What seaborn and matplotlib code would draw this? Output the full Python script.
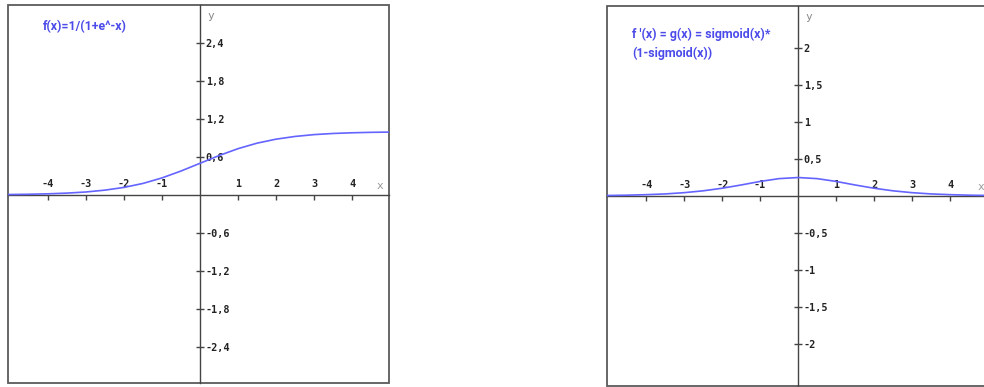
import numpy as np
import pandas as pd
import seaborn as sns
import matplotlib.pyplot as plt

# values, x step 0.5
x_vals = [-5.5, -5.0, -4.5, -4.0, -3.5, -3.0, -2.5, -2.0, -1.5, -1.0, -0.5, 0.0,
          0.5, 1.0, 1.5, 2.0, 2.5, 3.0, 3.5, 4.0, 4.5, 5.0, 5.5]
sigmoid_vals = [0.004, 0.007, 0.011, 0.018, 0.029, 0.047, 0.076, 0.119, 0.182, 0.269, 0.378, 0.5,
                0.622, 0.731, 0.818, 0.881, 0.924, 0.953, 0.971, 0.982, 0.989, 0.993, 0.996]
deriv_vals = [0.004, 0.007, 0.011, 0.018, 0.028, 0.045, 0.070, 0.105, 0.149, 0.197, 0.235, 0.25,
              0.235, 0.197, 0.149, 0.105, 0.070, 0.045, 0.028, 0.018, 0.011, 0.007, 0.004]

x_ticks = [-4, -3, -2, -1, 1, 2, 3, 4]
x_ticklabels = ["-4", "-3", "-2", "-1", "1", "2", "3", "4"]
left_yticks = [-2.4, -1.8, -1.2, -0.6, 0.6, 1.2, 1.8, 2.4]
left_ylabels = ["-2,4", "-1,8", "-1,2", "-0,6", "0,6", "1,2", "1,8", "2,4"]
right_yticks = [-2, -1.5, -1, -0.5, 0.5, 1, 1.5, 2]
right_ylabels = ["-2", "-1,5", "-1", "-0,5", "0,5", "1", "1,5", "2"]

titles = ["f(x)=1/(1+e^-x)", "f '(x) = g(x) = sigmoid(x)*\n(1-sigmoid(x))"]

df = pd.DataFrame({"x": x_vals, "sigmoid": sigmoid_vals, "deriv": deriv_vals})

sns.set_style("white")
line_col = "#6464ff"
axis_col = "#444444"
box_col = "#5a5a5a"
title_col = "#4b4bea"

fig = plt.figure(figsize=(9.84, 3.87), dpi=100)
ax1 = fig.add_axes([8 / 984, 4 / 387, 381 / 984, 378 / 387])
ax2 = fig.add_axes([607 / 984, 1 / 387, 383 / 984, 380 / 387])

panels = [
    (ax1, "sigmoid", (-5.05, 4.97), (-2.97, 3.0), left_yticks, left_ylabels, titles[0], (0.092, 0.96)),
    (ax2, "deriv", (-5.03, 5.05), (-2.57, 2.57), right_yticks, right_ylabels, titles[1], (0.065, 0.943)),
]

for ax, col, xl, yl, yt, ylab, title, tpos in panels:
    sns.lineplot(data=df, x="x", y=col, ax=ax, color=line_col, lw=1.2, zorder=3)
    ax.set_xlim(*xl)
    ax.set_ylim(*yl)
    ax.set_xlabel("")
    ax.set_ylabel("")

    # frame drawn by the axes patch, spines moved to the origin
    ax.patch.set_edgecolor(box_col)
    ax.patch.set_linewidth(1.3)
    for side in ["left", "right", "bottom", "top"]:
        ax.spines[side].set_position(("data", 0))
    for side in ["left", "bottom"]:
        ax.spines[side].set_color(axis_col)
        ax.spines[side].set_linewidth(1.0)
    ax.spines["right"].set_color("none")
    ax.spines["top"].set_color("none")

    ax.set_xticks(x_ticks)
    ax.set_xticklabels(x_ticklabels)
    ax.set_yticks(yt)
    ax.set_yticklabels(ylab)
    ax.tick_params(axis="x", bottom=True, top=False, labelbottom=False, labeltop=True,
                   direction="out", length=3.6, width=1, color=axis_col, pad=0.5)
    ax.tick_params(axis="y", left=True, right=False, labelleft=False, labelright=True,
                   direction="inout", length=5.8, width=1, color=axis_col, pad=1.2)
    for lab in ax.get_xticklabels() + ax.get_yticklabels():
        lab.set_fontfamily("DejaVu Sans Mono")
        lab.set_fontweight("bold")
        lab.set_fontsize(7.3)
        lab.set_color("#222222")
    ax.grid(False)

    ax.annotate("x", xy=(xl[1], 0), xytext=(-9, 3), textcoords="offset points",
                ha="left", va="bottom", color="#999999", fontsize=8, fontfamily="DejaVu Sans Mono")
    ax.annotate("y", xy=(0, yl[1]), xytext=(5, -4), textcoords="offset points",
                ha="left", va="top", color="#888888", fontsize=8, fontfamily="DejaVu Sans Mono")
    ax.text(tpos[0], tpos[1], title, transform=ax.transAxes, ha="left", va="top",
            color=title_col, fontsize=8.9, fontweight="bold", fontfamily="Roboto",
            linespacing=1.55)

fig.savefig("out.png", dpi=100)
